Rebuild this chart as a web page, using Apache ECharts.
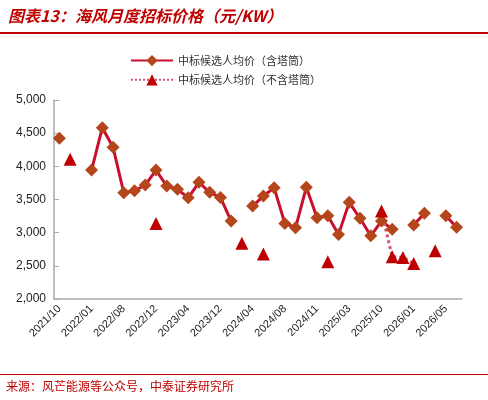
<!DOCTYPE html><html><head><meta charset="utf-8"><script src="https://cdn.jsdelivr.net/npm/echarts@6/dist/echarts.min.js"></script></head><body style="margin:0"><div id="c" style="width:488px;height:400px"></div><script>
const categories=['2021/10','2021/11','2021/12','2022/01','2022/02','2022/05','2022/08','2022/09','2022/10','2022/12','2023/01','2023/02','2023/04','2023/05','2023/07','2023/12','2024/01','2024/02','2024/04','2024/05','2024/06','2024/08','2024/09','2024/10','2024/11','2024/12','2025/01','2025/03','2025/05','2025/07','2025/10','2025/11','2025/12','2026/01','2026/02','2026/03','2026/05','2026/06'];
const withTower=[4422,null,null,3944,4582,4287,3602,3632,3718,3944,3703,3653,3526,3759,3608,3532,3175,null,3401,3552,3677,3140,3075,3683,3225,3255,2974,3457,3216,2953,3175,3050,null,3115,3291,null,3255,3080];
const noTower=[null,4105,null,null,null,null,null,null,null,3140,null,null,null,null,null,null,null,2839,null,2677,null,null,null,null,null,2561,null,null,null,null,3326,2637,2627,2537,null,2727,null,null];
const yTicks=[2000,5000,500];
const c=echarts.init(document.getElementById('c'));
c.setOption({animation:false,
graphic:[
{type:'text',left:8,top:8,style:{text:'图表13：海风月度招标价格（元/KW）',fill:'#C00000',font:'italic bold 16px "Noto Sans CJK SC"'}},
{type:'rect',shape:{x:0,y:32,width:488,height:2},style:{fill:'#C00000'}},
{type:'rect',shape:{x:0,y:374,width:488,height:1},style:{fill:'#C00000'}},
{type:'text',left:6,top:380,style:{text:'来源：风芒能源等公众号，中泰证券研究所',fill:'#C00000',font:'12px "Noto Sans CJK SC"'}}
],
legend:{top:50,left:125,orient:'vertical',itemGap:8,itemWidth:42,textStyle:{fontSize:11,color:'#333',fontFamily:'Noto Sans CJK SC'},
 data:[{name:'中标候选人均价（含塔筒）'},{name:'中标候选人均价（不含塔筒）'}]},
grid:{left:54,right:26,top:100,bottom:101},
xAxis:{type:'category',data:categories,boundaryGap:true,axisTick:{show:false},axisLine:{lineStyle:{color:'#aaa',width:1.5}},
 axisLabel:{interval:2,rotate:45,fontSize:11,color:'#222',fontFamily:'Arial'}},
yAxis:{type:'value',min:yTicks[0],max:yTicks[1],interval:yTicks[2],splitLine:{show:false},axisTick:{show:true,inside:true,lineStyle:{color:'#aaa'}},axisLine:{show:true,lineStyle:{color:'#aaa',width:1.5}},
 axisLabel:{fontSize:12,color:'#222',fontFamily:'Arial',formatter:v=>v.toLocaleString('en-US')}},
series:[
{name:'中标候选人均价（含塔筒）',type:'line',data:withTower,connectNulls:false,showAllSymbol:true,symbol:'diamond',symbolSize:13,
 lineStyle:{color:'#C8102E',width:3},itemStyle:{color:'#B5451B'}},
{name:'中标候选人均价（不含塔筒）',type:'line',data:noTower,connectNulls:false,showAllSymbol:true,symbol:'triangle',symbolSize:13,
 lineStyle:{color:'#D9536B',width:3,type:'dotted'},itemStyle:{color:'#C00000'},z:3}
]});
</script></body></html>
